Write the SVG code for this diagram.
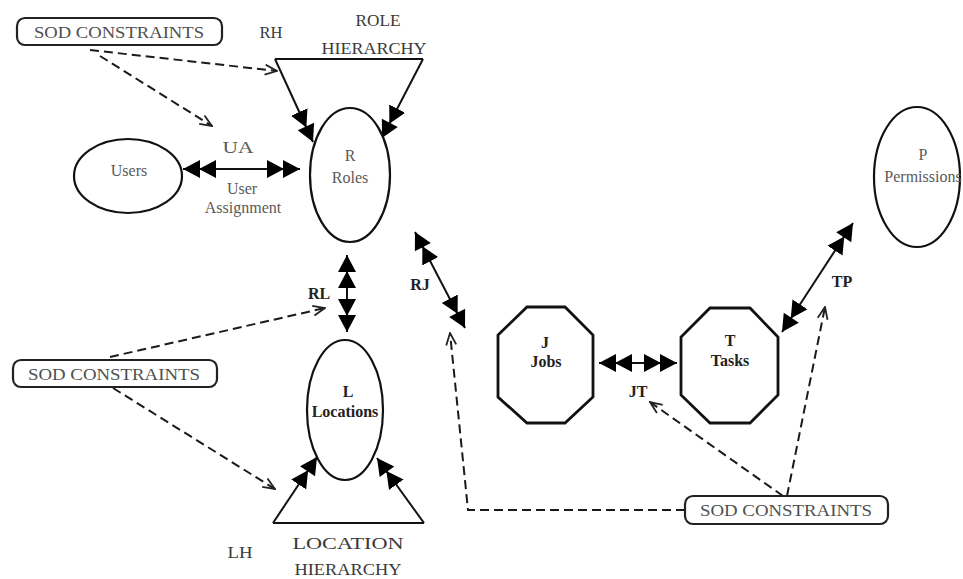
<svg xmlns="http://www.w3.org/2000/svg" width="963" height="579" viewBox="0 0 963 579">
<style>
text{font-family:"Liberation Serif","Times New Roman",serif;font-size:16px;text-anchor:middle;fill:#3a3a3a}
.lt{fill:#5a5a5a}
.b{font-weight:bold;fill:#222}
.shape{fill:#fff;stroke:#111;stroke-width:2.2}
.oct{fill:#fff;stroke:#111;stroke-width:2.8}
.sod{fill:#fff;stroke:#222;stroke-width:2.2}
.sodt{fill:#505050;font-size:16px}
.solid{fill:none;stroke:#111;stroke-width:2}
.dash{fill:none;stroke:#1a1a1a;stroke-width:2;stroke-dasharray:9 5}
</style>
<defs>
<marker id="dbl" markerUnits="userSpaceOnUse" markerWidth="34" markerHeight="20" viewBox="0 0 34 20" refX="33" refY="10" orient="auto-start-reverse">
<path d="M0,1 L17,10 L0,19 Z M16,1 L33,10 L16,19 Z" fill="#000"/>
</marker>
<marker id="open" markerUnits="userSpaceOnUse" markerWidth="14" markerHeight="12" viewBox="0 0 14 12" refX="13" refY="6" orient="auto">
<path d="M1,1 L13,6 L1,11" fill="none" stroke="#222" stroke-width="1.8"/>
</marker>
</defs>
<rect width="963" height="579" fill="#fff"/>

<g id="connectors">
<line class="solid" x1="275" y1="59" x2="313" y2="142" marker-end="url(#dbl)"/>
<line class="solid" x1="423" y1="59" x2="382" y2="138" marker-end="url(#dbl)"/>
<line class="solid" x1="273" y1="523" x2="317" y2="457" marker-end="url(#dbl)"/>
<line class="solid" x1="424" y1="523" x2="377" y2="458" marker-end="url(#dbl)"/>
<line class="solid" x1="183" y1="169" x2="300" y2="169" marker-start="url(#dbl)" marker-end="url(#dbl)"/>
<line class="solid" x1="347" y1="255" x2="347" y2="332" marker-start="url(#dbl)" marker-end="url(#dbl)"/>
<line class="solid" x1="415" y1="232" x2="465" y2="328" marker-start="url(#dbl)" marker-end="url(#dbl)"/>
<line class="solid" x1="599" y1="363" x2="677" y2="363" marker-start="url(#dbl)" marker-end="url(#dbl)"/>
<line class="solid" x1="782" y1="332" x2="853" y2="223" marker-start="url(#dbl)" marker-end="url(#dbl)"/>

<line class="dash" x1="90" y1="50" x2="277" y2="71" marker-end="url(#open)"/>
<line class="dash" x1="100" y1="56" x2="212" y2="126" marker-end="url(#open)"/>
<line class="dash" x1="110" y1="357" x2="325" y2="308" marker-end="url(#open)"/>
<line class="dash" x1="113" y1="388" x2="275" y2="489" marker-end="url(#open)"/>
<polyline class="dash" points="685,510 468,510 450,333" marker-end="url(#open)"/>
<line class="dash" x1="783" y1="496" x2="650" y2="402" marker-end="url(#open)"/>
<line class="dash" x1="787" y1="496" x2="825" y2="307" marker-end="url(#open)"/>
</g>

<g id="sod1">
<rect class="sod" x="17" y="18" width="205" height="27" rx="8"/>
<text class="sodt" x="119" y="38" textLength="170" lengthAdjust="spacingAndGlyphs">SOD CONSTRAINTS</text>
</g>
<g id="role-hierarchy">
<line class="solid" x1="275" y1="59" x2="423" y2="59"/>
<text x="271" y="38" textLength="23" lengthAdjust="spacingAndGlyphs">RH</text>
<text x="378" y="26" textLength="45" lengthAdjust="spacingAndGlyphs">ROLE</text>
<text x="374" y="54" textLength="105" lengthAdjust="spacingAndGlyphs">HIERARCHY</text>
</g>
<g id="users">
<ellipse class="shape" cx="128" cy="176" rx="54" ry="37"/>
<text class="lt" x="129" y="176">Users</text>
</g>
<g id="ua-label">
<text class="lt" x="238" y="153" textLength="31" lengthAdjust="spacingAndGlyphs">UA</text>
<text class="lt" x="242" y="194">User</text>
<text class="lt" x="243" y="213">Assignment</text>
</g>
<g id="roles">
<ellipse class="shape" cx="350" cy="175" rx="40" ry="67"/>
<text class="lt" x="350" y="161">R</text>
<text class="lt" x="350" y="183">Roles</text>
</g>
<g id="rl-label"><text class="b" x="319" y="299">RL</text></g>
<g id="sod2">
<rect class="sod" x="13" y="360" width="204" height="27" rx="8"/>
<text class="sodt" x="114" y="380" textLength="172" lengthAdjust="spacingAndGlyphs">SOD CONSTRAINTS</text>
</g>
<g id="locations">
<ellipse class="shape" cx="345" cy="410" rx="38" ry="70"/>
<text class="b" x="348" y="397">L</text>
<text class="b" x="345" y="417">Locations</text>
</g>
<g id="location-hierarchy">
<polyline class="solid" points="273,523 424,523" stroke-width="2.4"/>
<text x="240" y="558" textLength="25" lengthAdjust="spacingAndGlyphs">LH</text>
<text x="348" y="549" textLength="111" lengthAdjust="spacingAndGlyphs">LOCATION</text>
<text x="348" y="575" font-size="15" textLength="107" lengthAdjust="spacingAndGlyphs">HIERARCHY</text>
</g>
<g id="rj-label"><text class="b" x="420" y="290">RJ</text></g>
<g id="jobs">
<polygon class="oct" points="527,307 565,307 593,335 593,397 565,423 527,423 498,397 498,335"/>
<text class="b" x="545" y="348">J</text>
<text class="b" x="546" y="367">Jobs</text>
</g>
<g id="jt-label"><text class="b" x="638" y="397">JT</text></g>
<g id="tasks">
<polygon class="oct" points="710,308 750,308 778,337 778,395 750,423 710,423 681,395 681,337"/>
<text class="b" x="730" y="346">T</text>
<text class="b" x="730" y="366">Tasks</text>
</g>
<g id="tp-label"><text class="b" x="842" y="287">TP</text></g>
<g id="permissions">
<ellipse class="shape" cx="917" cy="177" rx="43" ry="70"/>
<text class="lt" x="923" y="160">P</text>
<text class="lt" x="923" y="182">Permissions</text>
</g>
<g id="sod3">
<rect class="sod" x="685" y="496" width="203" height="28" rx="8"/>
<text class="sodt" x="786" y="516" textLength="172" lengthAdjust="spacingAndGlyphs">SOD CONSTRAINTS</text>
</g>
</svg>
